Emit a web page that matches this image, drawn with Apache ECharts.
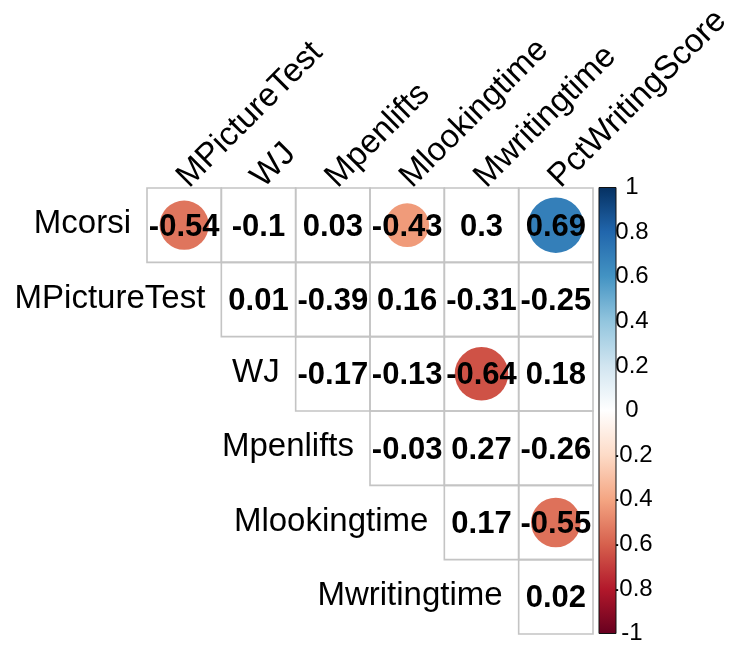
<!DOCTYPE html>
<html><head><meta charset="utf-8">
<script src="https://cdn.jsdelivr.net/npm/echarts@6/dist/echarts.min.js"></script>
<style>html,body{margin:0;padding:0;background:#fff}#c{width:736px;height:656px}</style>
</head><body><div id="c"></div>
<script>
const colNames = ['MPictureTest','WJ','Mpenlifts','Mlookingtime','Mwritingtime','PctWritingScore'];
const rowNames = ['Mcorsi','MPictureTest','WJ','Mpenlifts','Mlookingtime','Mwritingtime'];
const corrValues = [
  [-0.54, -0.1, 0.03, -0.43, 0.3, 0.69],
  [null, 0.01, -0.39, 0.16, -0.31, -0.25],
  [null, null, -0.17, -0.13, -0.64, 0.18],
  [null, null, null, -0.03, 0.27, -0.26],
  [null, null, null, null, 0.17, -0.55],
  [null, null, null, null, null, 0.02]
];
const significant = [
  [1, 0, 0, 1, 0, 1],
  [0, 0, 0, 0, 0, 0],
  [0, 0, 0, 0, 1, 0],
  [0, 0, 0, 0, 0, 0],
  [0, 0, 0, 0, 0, 1],
  [0, 0, 0, 0, 0, 0]
];
const colorRange = [-1, 1];
const paletteRdBu = ['#67001F','#B2182B','#D6604D','#F4A582','#FDDBC7','#FFFFFF','#D1E5F0','#92C5DE','#4393C3','#2166AC','#053061'];

const FONT = '"Liberation Sans", Arial, Helvetica, sans-serif';

const cellData = [];
const circleData = [];
corrValues.forEach((row, i) => row.forEach((v, j) => {
  if (v === null) return;
  cellData.push([j, i, v]);
  if (significant[i][j]) circleData.push([j, i, v]);
}));
const rowLabelData = rowNames.map((n, i) => [i, i]);
const colLabelData = colNames.map((n, j) => [j, 0]);

const chart = echarts.init(document.getElementById('c'), null, {renderer: 'canvas'});

const gradStops = paletteRdBu.slice().reverse().map((c, k, a) => ({offset: k / (a.length - 1), color: c}));

chart.setOption({
  animation: false,
  backgroundColor: '#fff',
  grid: [
    {left: 147, top: 188, width: 446, height: 446},
    {left: 599, top: 187.5, width: 17, height: 446}
  ],
  xAxis: [
    {gridIndex: 0, type: 'category', data: colNames, show: false},
    {gridIndex: 1, type: 'value', min: 0, max: 1, show: false}
  ],
  yAxis: [
    {gridIndex: 0, type: 'category', data: rowNames, inverse: true, show: false},
    {gridIndex: 1, type: 'value', min: -1, max: 1, interval: 0.2, position: 'right',
     axisLine: {show: false}, splitLine: {show: false},
     axisTick: {show: true, length: 3, lineStyle: {color: '#222', width: 1}},
     axisLabel: {margin: 16, align: 'center', fontSize: 24, fontFamily: FONT, color: '#000',
                 formatter: v => String(+v.toFixed(1))}}
  ],
  visualMap: {type: 'continuous', show: false, min: -1, max: 1, dimension: 2,
              seriesIndex: 1, inRange: {color: paletteRdBu}},
  series: [
    {type: 'custom', name: 'cells', xAxisIndex: 0, yAxisIndex: 0, data: cellData,
     encode: {x: 0, y: 1}, z: 1,
     renderItem: (params, api) => {
       const c = api.coord([api.value(0), api.value(1)]);
       const s = api.size([1, 1]);
       return {type: 'rect', shape: {x: c[0] - s[0] / 2, y: c[1] - s[1] / 2, width: s[0], height: s[1]},
               style: {fill: 'none', stroke: '#c4c4c4', lineWidth: 1.6}};
     }},
    {type: 'custom', name: 'circles', xAxisIndex: 0, yAxisIndex: 0, data: circleData,
     encode: {x: 0, y: 1}, z: 2,
     renderItem: (params, api) => {
       const c = api.coord([api.value(0), api.value(1)]);
       const s = api.size([1, 1]);
       const r = 0.45 * Math.sqrt(Math.abs(api.value(2))) * s[0];
       return {type: 'circle', shape: {cx: c[0], cy: c[1], r: r}, style: {fill: api.visual('color')}};
     }},
    {type: 'custom', name: 'numbers', xAxisIndex: 0, yAxisIndex: 0, data: cellData,
     encode: {x: 0, y: 1}, z: 3,
     renderItem: (params, api) => {
       const c = api.coord([api.value(0), api.value(1)]);
       return {type: 'text', x: c[0], y: c[1] + 2,
               style: {text: String(api.value(2)), fontSize: 31, fontWeight: 'bold', fontFamily: FONT,
                       fill: '#000', align: 'center', verticalAlign: 'middle'}};
     }},
    {type: 'custom', name: 'rowLabels', xAxisIndex: 0, yAxisIndex: 0, data: rowLabelData,
     encode: {x: 0, y: 1}, z: 3,
     renderItem: (params, api) => {
       const c = api.coord([api.value(0), api.value(1)]);
       const s = api.size([1, 1]);
       return {type: 'text', x: c[0] - s[0] / 2 - 16, y: c[1] - 1,
               style: {text: rowNames[params.dataIndex], fontSize: 33, fontFamily: FONT,
                       fill: '#000', align: 'right', verticalAlign: 'middle'}};
     }},
    {type: 'custom', name: 'colLabels', xAxisIndex: 0, yAxisIndex: 0, data: colLabelData,
     encode: {x: 0, y: 1}, z: 3,
     renderItem: (params, api) => {
       const c = api.coord([api.value(0), api.value(1)]);
       const s = api.size([1, 1]);
       return {type: 'text', x: c[0] + 10, y: c[1] - s[1] / 2 + 6, rotation: Math.PI / 4,
               style: {text: colNames[params.dataIndex], fontSize: 33, fontFamily: FONT,
                       fill: '#000', align: 'left', verticalAlign: 'bottom'}};
     }},
    {type: 'custom', name: 'colorbar', xAxisIndex: 1, yAxisIndex: 1, data: [colorRange],
     encode: {y: [0, 1]}, z: 1,
     renderItem: (params, api) => {
       const p0 = api.coord([0, api.value(1)]);
       const p1 = api.coord([1, api.value(0)]);
       return {type: 'rect', shape: {x: p0[0], y: p0[1], width: p1[0] - p0[0], height: p1[1] - p0[1]},
               style: {fill: new echarts.graphic.LinearGradient(0, 0, 0, 1, gradStops),
                       stroke: '#111', lineWidth: 1}};
     }}
  ]
});
</script></body></html>
